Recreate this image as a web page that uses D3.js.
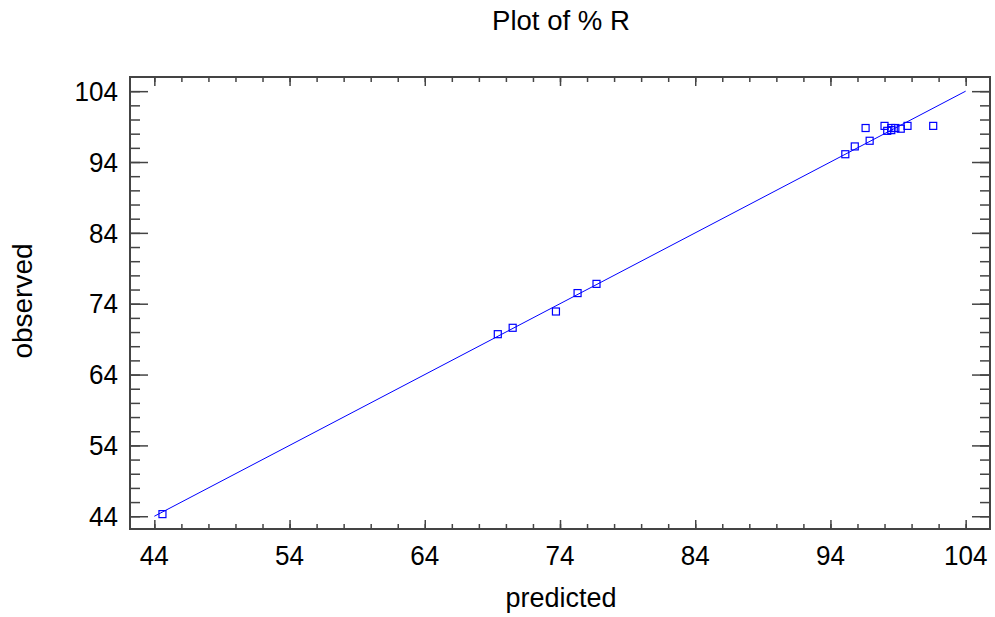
<!DOCTYPE html>
<html>
<head>
<meta charset="utf-8">
<script src="https://cdn.jsdelivr.net/npm/d3@7"></script>
<style>
  body { margin: 0; background: #fff; }
  text { font-family: "Liberation Sans", Arial, sans-serif; fill: #000; }
</style>
</head>
<body>
<div id="chart"></div>
<script>
var width = 995,
    height = 617;

// predicted vs observed % R
var predicted = [44.6, 69.4, 70.5, 73.7, 75.3, 76.7,
                 95.1, 95.8, 96.9, 96.6, 98.0, 98.2, 98.5, 98.5, 98.8, 99.2, 99.7, 101.6];
var observed  = [44.3, 69.7, 70.6, 72.9, 75.5, 76.8,
                 95.1, 96.2, 97.0, 98.8, 99.1, 98.4, 98.8, 98.5, 98.8, 98.7, 99.1, 99.1];
var fitLine = [[44, 44], [104, 104]];
var tickValues = [44, 54, 64, 74, 84, 94, 104];
var minorValues = d3.range(44, 106, 2);

var margin = { left: 130, top: 77, right: 5, bottom: 88 };
var w = width - margin.left - margin.right,
    h = height - margin.top - margin.bottom;

var x = d3.scaleLinear().domain([42.2, 105.8]).range([0, w]);
var y = d3.scaleLinear().domain([42.2, 106]).range([h, 0]);

var svg = d3.select("#chart").append("svg")
    .attr("width", width)
    .attr("height", height);

svg.append("text")
    .attr("x", 561).attr("y", 30)
    .attr("text-anchor", "middle")
    .style("font-size", "27px")
    .attr("textLength", 138)
    .attr("lengthAdjust", "spacingAndGlyphs")
    .text("Plot of % R");

var g = svg.append("g")
    .attr("transform", "translate(" + margin.left + "," + margin.top + ")");

// minor + major ticks, all four sides
function ticks(axis, size, values) {
  return axis.tickValues(values).tickSize(size).tickFormat("");
}
var tickColor = "#444";

g.append("g").attr("transform", "translate(0," + h + ")")
  .call(ticks(d3.axisTop(x), 5, minorValues));
g.append("g").attr("transform", "translate(0," + h + ")")
  .call(ticks(d3.axisTop(x), 9, tickValues));
g.append("g").call(ticks(d3.axisBottom(x), 5, minorValues));
g.append("g").call(ticks(d3.axisBottom(x), 9, tickValues));
g.append("g").call(ticks(d3.axisRight(y), 10, minorValues));
g.append("g").call(ticks(d3.axisRight(y), 18, tickValues));
g.append("g").attr("transform", "translate(" + w + ",0)")
  .call(ticks(d3.axisLeft(y), 10, minorValues));
g.append("g").attr("transform", "translate(" + w + ",0)")
  .call(ticks(d3.axisLeft(y), 18, tickValues));

g.selectAll(".domain").remove();
g.selectAll(".tick line").attr("stroke", tickColor).attr("stroke-width", 1.5);

g.append("rect")
    .attr("width", w).attr("height", h)
    .attr("fill", "none")
    .attr("stroke", tickColor)
    .attr("stroke-width", 2);

// tick labels (the original font is a bit condensed)
function labelLen(d) { return String(d).length * 14.5; }

g.selectAll(".xlab").data(tickValues).enter().append("text")
    .attr("x", function(d) { return x(d); })
    .attr("y", h + 36)
    .attr("text-anchor", "middle")
    .style("font-size", "27px")
    .attr("textLength", labelLen)
    .attr("lengthAdjust", "spacingAndGlyphs")
    .text(function(d) { return d; });

g.selectAll(".ylab").data(tickValues).enter().append("text")
    .attr("x", -12)
    .attr("y", function(d) { return y(d); })
    .attr("dy", "0.36em")
    .attr("text-anchor", "end")
    .style("font-size", "27px")
    .attr("textLength", labelLen)
    .attr("lengthAdjust", "spacingAndGlyphs")
    .text(function(d) { return d; });

svg.append("text")
    .attr("x", 561).attr("y", 607)
    .attr("text-anchor", "middle")
    .style("font-size", "27px")
    .text("predicted");

svg.append("text")
    .attr("transform", "translate(32,301) rotate(-90)")
    .attr("text-anchor", "middle")
    .style("font-size", "28px")
    .text("observed");

// fitted line
g.append("path")
    .datum(fitLine)
    .attr("fill", "none")
    .attr("stroke", "#0000ff")
    .attr("stroke-width", 1)
    .attr("d", d3.line().x(function(d) { return x(d[0]); }).y(function(d) { return y(d[1]); }));

// points
g.selectAll(".pt").data(predicted).enter().append("rect")
    .attr("x", function(d) { return x(d) - 3.5; })
    .attr("y", function(d, i) { return y(observed[i]) - 3.5; })
    .attr("width", 7).attr("height", 7)
    .attr("fill", "none")
    .attr("stroke", "#0000ff")
    .attr("stroke-width", 1.2);
</script>
</body>
</html>
